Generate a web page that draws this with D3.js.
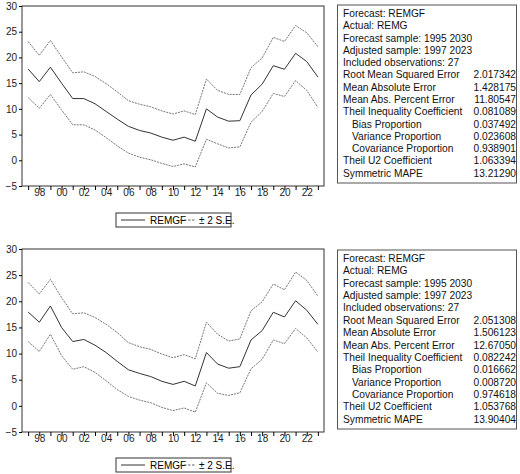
<!DOCTYPE html>
<html><head><meta charset="utf-8">
<script src="https://cdn.jsdelivr.net/npm/d3@7"></script>
<style>body{margin:0;background:#fff}text{font-family:"Liberation Sans",Arial,sans-serif}</style>
</head><body><svg id="c" width="520" height="474"></svg>
<script>
const years = d3.range(1997, 2024);
const tickLabels = ["98","00","02","04","06","08","10","12","14","16","18","20","22"];
const yTicks = [-5,0,5,10,15,20,25,30];
const fc1 = [17.75,15.3,18.1,15,12,12,11,9.5,8,6.6,5.8,5.3,4.5,3.9,4.5,3.7,10,8.4,7.6,7.7,12.7,14.8,18.4,17.7,20.8,19.2,16.2];
const up1 = [23.1,20.4,23.3,20.1,17,17.2,16.3,14.9,13.3,11.6,10.9,10.4,9.6,9,9.6,8.9,15.8,13.6,12.8,12.8,18,19.9,23.9,23.1,26.2,24.8,22.1];
const lo1 = [12.2,10.1,12.8,9.8,6.9,6.9,5.9,4.4,2.8,1.4,0.6,0.1,-0.6,-1.2,-0.7,-1.3,4.1,3.2,2.4,2.6,7.4,9.5,13,12.4,15.5,13.6,10.3];
const fc2 = [17.95,16,19.1,15,12.3,12.7,11.6,10.2,8.5,6.9,6.2,5.6,4.7,4.1,4.7,3.8,10.2,8,7.2,7.5,12.6,14.4,17.9,17,20.1,18.3,15.6];
const up2 = [23.6,21.4,24.2,20.7,17.6,17.8,16.9,15.6,14,12.1,11.3,10.8,9.9,9.2,9.8,9,16,13.7,12.4,12.8,18.2,19.9,23.3,22.2,25.6,24,21];
const lo2 = [12.3,10.4,13.7,9.6,7,7.5,6.4,4.8,3.1,1.8,1.1,0.6,-0.3,-0.9,-0.4,-1.2,4.4,2.4,2,2.5,7.1,8.9,12.6,11.9,14.8,13,10.3];
const statLabels = ["Forecast: REMGF","Actual: REMG","Forecast sample: 1995 2030","Adjusted sample: 1997 2023","Included observations: 27","Root Mean Squared Error","Mean Absolute Error","Mean Abs. Percent Error","Theil Inequality Coefficient","Bias Proportion","Variance Proportion","Covariance Proportion","Theil U2 Coefficient","Symmetric MAPE"];
const stats1 = ["","","","","","2.017342","1.428175","11.80547","0.081089","0.037492","0.023608","0.938901","1.063394","13.21290"];
const stats2 = ["","","","","","2.051308","1.506123","12.67050","0.082242","0.016662","0.008720","0.974618","1.053768","13.90404"];

const svg = d3.select("#c");
function panel(top, bottom, fc, up, lo, stats, boxTop, boxBot, legTop){
  const g = svg.append("g");
  const x = d3.scaleLinear().domain([1996.45, 2023.55]).range([22, 324]);
  const y = d3.scaleLinear().domain([-5, 30]).range([bottom, top]);
  g.append("rect").attr("x",22).attr("y",top).attr("width",302).attr("height",bottom-top)
    .attr("fill","none").attr("stroke","#333").attr("stroke-width",1);
  const ya = g.append("g").attr("transform","translate(22,0)")
    .call(d3.axisLeft(y).tickValues(yTicks).tickSize(3).tickFormat(d=>d<0?"\u22125":d));
  ya.select(".domain").remove();
  ya.selectAll("text").attr("font-size",10).attr("fill","#222").attr("dx",1);
  const xa = g.append("g").attr("transform",`translate(0,${bottom})`)
    .call(d3.axisBottom(x).tickValues(years).tickSize(4).tickFormat(d=>d%2===0?tickLabels[(d-1998)/2]:""));
  xa.select(".domain").remove();
  xa.selectAll("text").attr("font-size",10).attr("fill","#222").attr("dy",3);
  const line = d3.line().x((d,i)=>x(years[i])).y(d=>y(d));
  g.append("path").attr("d",line(fc)).attr("fill","none").attr("stroke","#333").attr("stroke-width",1);
  [up,lo].forEach(s=>g.append("path").attr("d",line(s)).attr("fill","none").attr("stroke","#666").attr("stroke-width",0.9).attr("stroke-dasharray","2,1"));
  // legend
  g.append("rect").attr("x",116).attr("y",legTop).attr("width",115).attr("height",14).attr("fill","#fff").attr("stroke","#333");
  g.append("line").attr("x1",121).attr("x2",145).attr("y1",legTop+7).attr("y2",legTop+7).attr("stroke","#333");
  g.append("text").attr("x",150).attr("y",legTop+11).attr("font-size",10).text("REMGF");
  g.append("line").attr("x1",180).attr("x2",196).attr("y1",legTop+7).attr("y2",legTop+7).attr("stroke","#666").attr("stroke-dasharray","2.5,1.5");
  g.append("text").attr("x",199).attr("y",legTop+11).attr("font-size",10).text("\u00b1 2 S.E.");
  // stats box
  g.append("rect").attr("x",337.5).attr("y",boxTop).attr("width",179).attr("height",boxBot-boxTop).attr("fill","#fff").attr("stroke","#555");
  const lh = (boxBot-boxTop-6)/14;
  statLabels.forEach((t,i)=>{
    const yy = boxTop + 12 + i*lh;
    g.append("text").attr("x", (i>=9&&i<=11)?352:343).attr("y",yy).attr("font-size",10.2).attr("fill","#111").text(t);
    if(stats[i]) g.append("text").attr("x",516).attr("y",yy).attr("text-anchor","end").attr("font-size",10.2).attr("fill","#111").text(stats[i]);
  });
}
panel(6, 186, fc1, up1, lo1, stats1, 5, 183, 213);
panel(249, 432, fc2, up2, lo2, stats2, 250, 429, 458);
</script></body></html>
